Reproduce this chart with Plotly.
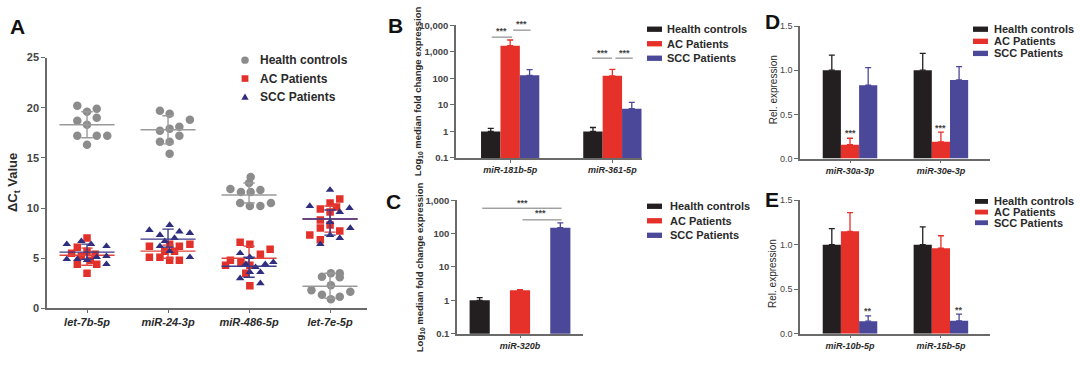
import math
import plotly.graph_objects as go

W, H = 1080, 369
FONT = "Arial, Liberation Sans, sans-serif"

# ---------------- Panel A data ----------------
a_cats = ["let-7b-5p", "miR-24-3p", "miR-486-5p", "let-7e-5p"]
a_series = ["Health controls", "AC Patients", "SCC Patients"]

hc_vals = [
    [20.2, 19.6, 19.9, 18.7, 18.3, 19.0, 17.2, 17.2, 17.2, 16.3],
    [19.7, 19.4, 18.8, 17.9, 18.1, 17.7, 17.2, 16.6, 16.6, 15.4],
    [13.1, 12.5, 11.9, 11.6, 11.6, 11.8, 10.5, 10.5, 10.2, 10.2],
    [3.15, 3.5, 3.5, 3.1, 2.3, 1.8, 1.35, 0.9, 1.15, 1.65],
]
hc_jit = [
    [-0.12, 0.0, 0.12, -0.12, 0.0, 0.12, -0.12, 0.12, 0.25, 0.0],
    [-0.1, 0.02, 0.27, 0.02, 0.14, -0.1, 0.14, -0.1, 0.02, 0.02],
    [0.02, 0.0, -0.23, -0.1, 0.02, 0.14, 0.27, -0.11, 0.01, 0.14],
    [-0.1, 0.01, 0.12, 0.12, 0.01, -0.23, -0.1, 0.01, 0.12, 0.25],
]
ac_vals = [
    [7.0, 6.1, 5.5, 5.2, 5.7, 5.4, 4.4, 4.4, 3.5, 4.8],
    [6.2, 6.4, 6.2, 6.4, 5.7, 5.7, 5.1, 4.8, 4.8, 5.1],
    [6.6, 6.4, 5.9, 5.4, 4.8, 4.6, 4.3, 3.5, 2.25, 4.3],
    [10.9, 10.5, 10.1, 9.9, 9.6, 8.8, 8.0, 8.3, 7.3, 7.7, 6.85],
]
ac_jit = [
    [0.0, -0.12, -0.19, -0.07, 0.0, 0.1, 0.12, -0.12, 0.0, 0.04],
    [-0.23, 0.02, 0.14, 0.27, -0.04, 0.08, -0.1, 0.02, 0.14, -0.23],
    [-0.11, 0.01, 0.26, 0.14, -0.23, -0.1, 0.01, -0.04, 0.01, -0.29],
    [0.12, 0.0, 0.08, -0.12, 0.0, -0.12, -0.12, 0.0, -0.25, 0.12, -0.12],
]
scc_vals = [
    [6.4, 6.7, 6.4, 6.2, 4.9, 4.9, 4.8, 5.1, 5.2, 4.4],
    [7.8, 8.3, 7.3, 7.65, 7.5, 7.0, 6.2, 5.7, 5.1, 6.7],
    [5.5, 5.1, 4.1, 4.4, 4.4, 4.6, 3.0, 3.6, 3.6, 2.5],
    [11.8, 10.2, 10.0, 9.6, 8.6, 8.0, 7.3, 6.4, 7.0],
]
scc_jit = [
    [-0.25, -0.07, 0.05, 0.24, -0.25, -0.12, 0.0, 0.12, 0.24, 0.24],
    [-0.23, 0.02, -0.1, 0.14, 0.27, 0.08, -0.1, 0.02, 0.27, -0.04],
    [-0.11, 0.01, 0.08, -0.04, 0.2, 0.3, -0.11, 0.01, 0.14, 0.14],
    [0.0, -0.25, 0.24, 0.12, 0.0, 0.25, 0.0, -0.12, 0.12],
]
hc_med = [18.3, 17.8, 11.3, 2.2]
hc_iqr = [(17.0, 19.6), (16.4, 19.2), (10.5, 12.5), (1.0, 3.5)]
ac_med = [5.3, 5.7, 5.0, 8.9]
ac_iqr = [(4.3, 6.0), (5.0, 6.3), (4.2, 6.2), (7.6, 10.2)]
scc_med = [5.6, 6.9, 4.2, 8.9]
scc_iqr = [(4.9, 6.4), (6.1, 7.9), (3.1, 5.1), (7.3, 9.8)]
a_ticks = [0, 5, 10, 15, 20, 25]

# ---------------- Panel B data ----------------
b_cats = ["miR-181b-5p", "miR-361-5p"]
b_hc = [1.0, 1.0]
b_hc_top = [1.3, 1.4]
b_ac = [1700, 125]
b_ac_top = [2800, 220]
b_scc = [130, 7.2]
b_scc_top = [215, 12.4]
b_ticks = [0.1, 1, 10, 100, 1000, 10000]
b_ticktext = ["0.1", "1", "10", "100", "1,000", "10,000"]

# ---------------- Panel C data ----------------
c_cats = ["miR-320b"]
c_hc = [1.0]
c_hc_top = [1.2]
c_ac = [2.0]
c_ac_top = [2.1]
c_scc = [150]
c_scc_top = [210]
c_ticks = [0.1, 1, 10, 100, 1000]
c_ticktext = ["0.1", "1", "10", "100", "1,000"]

# ---------------- Panel D data ----------------
d_cats = ["miR-30a-3p", "miR-30e-3p"]
d_hc = [1.0, 1.0]
d_hc_top = [1.17, 1.19]
d_ac = [0.157, 0.19]
d_ac_top = [0.23, 0.30]
d_scc = [0.83, 0.89]
d_scc_top = [1.03, 1.04]

# ---------------- Panel E data ----------------
e_cats = ["miR-10b-5p", "miR-15b-5p"]
e_hc = [1.0, 1.0]
e_hc_top = [1.18, 1.2]
e_ac = [1.15, 0.96]
e_ac_top = [1.36, 1.10]
e_scc = [0.14, 0.145]
e_scc_top = [0.20, 0.22]
de_ticks = [0.0, 0.5, 1.0, 1.5]

# ---------------- styles ----------------
C_BLACK = "#231f20"
C_RED = "#e6302a"
C_BLUE = "#4b4799"
S_GRAY = "#8c8c8c"
S_RED = "#e2302a"
S_NAVY = "#2f2d7e"
AX = "#6a6a6a"
TXT = "#2a2a2a"


def px_x(p):
    return p / W


def px_y(p):
    return 1 - p / H


fig = go.Figure()
ann = []
shapes = []

# ---------- Panel A ----------
groups = [
    (hc_vals, hc_jit, hc_med, hc_iqr, S_GRAY, "circle", 8.5, "#9a9a9a"),
    (ac_vals, ac_jit, ac_med, ac_iqr, S_RED, "square", 7.5, "#e2443c"),
    (scc_vals, scc_jit, scc_med, scc_iqr, S_NAVY, "triangle-up", 7.5, "#3b3a8a"),
]
for vals, jit, med, iqr, col, sym, size, lcol in groups:
    xs, ys = [], []
    for i, (vv, jj) in enumerate(zip(vals, jit)):
        for v, j in zip(vv, jj):
            xs.append(i + j)
            ys.append(v)
    lx, ly = [], []
    for i, m in enumerate(med):
        lx += [i - 0.34, i + 0.34, None]
        ly += [m, m, None]
        lo, hi = iqr[i]
        lx += [i, i, None, i - 0.07, i + 0.07, None, i - 0.07, i + 0.07, None]
        ly += [lo, hi, None, lo, lo, None, hi, hi, None]
    fig.add_trace(go.Scatter(x=xs, y=ys, mode="markers", xaxis="x", yaxis="y",
                             marker=dict(symbol=sym, size=size, color=col, line=dict(width=0)),
                             showlegend=False, hoverinfo="skip"))
    fig.add_trace(go.Scatter(x=lx, y=ly, mode="lines", xaxis="x", yaxis="y",
                             line=dict(color=lcol, width=1.4), showlegend=False, hoverinfo="skip"))


# ---------- bar helper ----------
def add_bars(xa, ya, n, series, width, offsets):
    for (vals, tops, col), off in zip(series, offsets):
        fig.add_trace(go.Bar(
            x=list(range(n)), y=vals, xaxis=xa, yaxis=ya, width=width, offset=off,
            marker=dict(color=col, line=dict(width=0)),
            error_y=dict(type="data", symmetric=False,
                         array=[t - v for t, v in zip(tops, vals)],
                         arrayminus=[0] * n, color=col, thickness=1.3, width=3),
            showlegend=False, hoverinfo="skip"))


def add_sig(xa, ya, segs, texts, log=False, size=9):
    lx, ly = [], []
    for x0, x1, y in segs:
        lx += [x0, x1, None]
        ly += [y, y, None]
    if lx:
        fig.add_trace(go.Scatter(x=lx, y=ly, mode="lines", xaxis=xa, yaxis=ya,
                                 line=dict(color="#777777", width=1), showlegend=False,
                                 hoverinfo="skip", cliponaxis=False))
    for x, y, t, shift in texts:
        ann.append(dict(x=x, y=math.log10(y) if log else y, xref=xa, yref=ya, text=t,
                        showarrow=False, xanchor="center", yanchor="middle", yshift=shift,
                        font=dict(family=FONT, size=size, color="#444444", weight="bold")))


# Panel B
add_bars("x2", "y2", 2, [(b_hc, b_hc_top, C_BLACK), (b_ac, b_ac_top, C_RED), (b_scc, b_scc_top, C_BLUE)],
         0.19, [-0.285, -0.095, 0.095])
add_sig("x2", "y2",
        [(-0.18, 0.02, 3600), (0.03, 0.2, 6600), (0.8, 0.996, 580), (1.03, 1.2, 580)],
        [(-0.08, 6000, "***", 0), (0.11, 9000, "***", 3), (0.9, 880, "***", 0), (1.12, 880, "***", 0)],
        log=True)

# Panel C
add_bars("x3", "y3", 1, [(c_hc, c_hc_top, C_BLACK), (c_ac, c_ac_top, C_RED), (c_scc, c_scc_top, C_BLUE)],
         0.16, [-0.40, -0.08, 0.24])
add_sig("x3", "y3",
        [(-0.30, 0.33, 575), (0.02, 0.33, 257)],
        [(0.02, 850, "***", 0), (0.16, 400, "***", 0)], log=True)

# Panel D
add_bars("x4", "y4", 2, [(d_hc, d_hc_top, C_BLACK), (d_ac, d_ac_top, C_RED), (d_scc, d_scc_top, C_BLUE)],
         0.2, [-0.3, -0.1, 0.1])
add_sig("x4", "y4", [], [(0.0, 0.285, "***", 0), (1.0, 0.345, "***", 0)])

# Panel E
add_bars("x5", "y5", 2, [(e_hc, e_hc_top, C_BLACK), (e_ac, e_ac_top, C_RED), (e_scc, e_scc_top, C_BLUE)],
         0.2, [-0.3, -0.1, 0.1])
add_sig("x5", "y5", [], [(0.2, 0.255, "**", 0), (1.2, 0.265, "**", 0)])


# ---------- axes ----------
def xax(dom, rng, cats, size, anchor):
    return dict(domain=dom, range=rng, anchor=anchor, tickmode="array",
                tickvals=list(range(len(cats))), ticktext=cats, showline=True,
                linecolor=AX, linewidth=1.5, ticks="outside", ticklen=3, tickwidth=1.2,
                tickcolor=AX, showgrid=False, zeroline=False, fixedrange=True,
                tickfont=dict(family=FONT, size=size, color=TXT, style="italic", weight="bold"))


def yax(dom, rng, tv, tt, size, anchor, typ="linear", bold=True):
    return dict(domain=dom, range=rng, anchor=anchor, type=typ, tickmode="array",
                tickvals=tv, ticktext=tt, showline=True, linecolor=AX, linewidth=1.5,
                ticks="outside", ticklen=4, tickwidth=1.2, tickcolor=AX, showgrid=False,
                zeroline=False, fixedrange=True,
                tickfont=dict(family=FONT, size=size, color="#444444",
                              weight="bold" if bold else "normal"))


fig.update_layout(
    width=W, height=H, margin=dict(l=0, r=0, t=0, b=0),
    paper_bgcolor="white", plot_bgcolor="white", barmode="overlay", showlegend=False,
    xaxis=xax([px_x(47), px_x(367)], [-0.494, 3.456], a_cats, 11, "y"),
    yaxis=yax([px_y(312.5), px_y(53.3)], [0, 25], a_ticks, [str(t) for t in a_ticks], 11, "x"),
    xaxis2=xax([px_x(456), px_x(642)], [-0.53, 1.29], b_cats, 9, "y2"),
    yaxis2=yax([px_y(157), px_y(20)], [-1, 4], b_ticks, b_ticktext, 9.5, "x2", "log"),
    xaxis3=xax([px_x(457), px_x(583)], [-0.5, 0.5], c_cats, 9, "y3"),
    yaxis3=yax([px_y(338.7), px_y(200.7)], [-1, 3], c_ticks, c_ticktext, 9.5, "x3", "log"),
    xaxis4=xax([px_x(800), px_x(990)], [-0.55, 1.54], d_cats, 9, "y4"),
    yaxis4=yax([px_y(157.7), px_y(20.7)], [0, 1.5], de_ticks, ["0.0", "0.5", "1.0", "1.5"], 9, "x4", bold=False),
    xaxis5=xax([px_x(800), px_x(990)], [-0.55, 1.54], e_cats, 9, "y5"),
    yaxis5=yax([px_y(338.7), px_y(200.7)], [0, 1.5], de_ticks, ["0.0", "0.5", "1.0", "1.5"], 9, "x5", bold=False),
)


def label(x, y, text, size, anchor="center", angle=0, color=TXT, bold=True):
    ann.append(dict(x=px_x(x), y=px_y(y), xref="paper", yref="paper", text=text,
                    showarrow=False, xanchor=anchor, yanchor="middle", textangle=angle,
                    font=dict(family=FONT, size=size, color=color,
                              weight="bold" if bold else "normal")))


# panel letters
label(17, 21, "A", 21, color="#111111")
label(395, 20, "B", 21, color="#111111")
label(393, 202, "C", 21, color="#111111")
label(772, 16, "D", 21, color="#111111")
label(772, 200, "E", 21, color="#111111")

# axis titles
label(13, 183, "ΔC<sub>t</sub> Value", 13, angle=-90)
label(418, 88, "Log<sub>10</sub> median fold change expression", 9.5, angle=-90)
label(420, 270, "Log<sub>10</sub> median fold change expression", 9.5, angle=-90)
label(773, 87, "Rel. expression", 10, angle=-90, bold=False)
label(773, 277, "Rel. expression", 10, angle=-90, bold=False)

# Legend A (markers)
leg_a_y = [56, 75, 94]
r = 3.8
shapes.append(dict(type="circle", xref="paper", yref="paper",
                   x0=px_x(245 - r), x1=px_x(245 + r), y0=px_y(leg_a_y[0] + r), y1=px_y(leg_a_y[0] - r),
                   fillcolor=S_GRAY, line=dict(width=0)))
shapes.append(dict(type="rect", xref="paper", yref="paper",
                   x0=px_x(245 - 3.4), x1=px_x(245 + 3.4), y0=px_y(leg_a_y[1] + 3.4), y1=px_y(leg_a_y[1] - 3.4),
                   fillcolor=S_RED, line=dict(width=0)))
ty = leg_a_y[2]
shapes.append(dict(type="path", xref="paper", yref="paper",
                   path=f"M {px_x(241.3)},{px_y(ty + 3)} L {px_x(248.7)},{px_y(ty + 3)} L {px_x(245)},{px_y(ty - 3.6)} Z",
                   fillcolor=S_NAVY, line=dict(width=0)))
for yy, name in zip(leg_a_y, a_series):
    label(258, yy, name, 12, anchor="left")


def bar_legend(x0, x1, xt, ys, size, h=5.5):
    for yy, name, col in zip(ys, a_series, [C_BLACK, C_RED, C_BLUE]):
        shapes.append(dict(type="rect", xref="paper", yref="paper",
                           x0=px_x(x0), x1=px_x(x1), y0=px_y(yy + h / 2), y1=px_y(yy - h / 2),
                           fillcolor=col, line=dict(width=0)))
        label(xt, yy, name, size, anchor="left")


bar_legend(647, 662, 665, [24, 39, 54], 11)
bar_legend(647, 662, 668, [207, 222, 237], 11)
bar_legend(973, 988, 992, [24, 36.5, 49], 11)
bar_legend(975, 988, 992, [202, 213, 224], 11, h=5)

fig.update_layout(annotations=ann, shapes=shapes)

fig.write_html("out.html", config={"displayModeBar": False},
               post_script="document.body.style.margin='0';")
